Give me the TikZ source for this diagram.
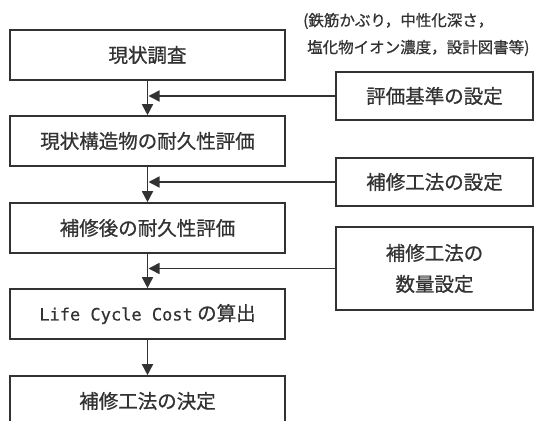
\documentclass[tikz,border=0pt]{standalone}
\usepackage{fontspec}
\setmainfont{Noto Sans CJK JP}
\newfontfamily\jp[FakeBold=0.8]{Noto Sans CJK JP}
\newfontfamily\latmono[FakeBold=0.6]{DejaVu Sans Mono}
\usetikzlibrary{arrows.meta}
\definecolor{ink}{RGB}{50,50,50}
\tikzset{
  flowbox/.style={draw=ink, line width=1.6pt, minimum width=275pt, minimum height=50pt,
    inner sep=0pt, text=ink, font=\jp\fontsize{19.5}{24}\selectfont},
  sidebox/.style={draw=ink, line width=1.6pt, minimum width=197pt, minimum height=48pt,
    inner sep=0pt, text=ink, font=\jp\fontsize{19.5}{24}\selectfont, align=center},
  note/.style={inner sep=0pt, anchor=west, text=ink, font=\jp\fontsize{15.5}{18}\selectfont},
  flowarrow/.style={draw=ink, line width=1.6pt, -{Triangle[length=11pt,width=11pt]}},
}
\begin{document}
\begin{tikzpicture}[x=1pt,y=-1pt]
\useasboundingbox (0,0) rectangle (535,420);
\clip (0,0) rectangle (535,420);
% main column
\node[flowbox] (b1) at (147.5,55) {現状調査};
\node[flowbox] (b2) at (147.5,141) {現状構造物の耐久性評価};
\node[flowbox] (b3) at (147.5,228) {補修後の耐久性評価};
\node[flowbox] (b4) at (147.5,314) {{\latmono\fontsize{17}{20}\selectfont Life Cycle Cost} の算出};
\node[flowbox] (b5) at (147.5,401) {補修工法の決定};
% side boxes
\node[sidebox] (r1) at (434.5,96) {評価基準の設定};
\node[sidebox] (r2) at (434.5,182) {補修工法の設定};
\node[sidebox, minimum height=83pt, align=center] (r3) at (434.5,268.5) {補修工法の\\[7pt]数量設定};
% note
\node[note] (n1) at (303,21) {(鉄筋かぶり，中性化深さ，};
\node[note] (n2) at (307,48) {塩化物イオン濃度，設計図書等)};
% vertical arrows
\draw[flowarrow] (b1.south) -- (b2.north);
\draw[flowarrow] (b2.south) -- (b3.north);
\draw[flowarrow] (b3.south) -- (b4.north);
\draw[flowarrow] (b4.south) -- (b5.north);
% side arrows
\coordinate (j1) at ([xshift=1pt]r1.west -| b1.south);
\coordinate (j2) at ([xshift=1pt]r2.west -| b2.south);
\coordinate (j3) at ([xshift=1pt]r3.west -| b3.south);
\draw[flowarrow] (r1.west) -- (j1);
\draw[flowarrow] (r2.west) -- (j2);
\draw[flowarrow] (r3.west) -- (j3);
\end{tikzpicture}
\end{document}
